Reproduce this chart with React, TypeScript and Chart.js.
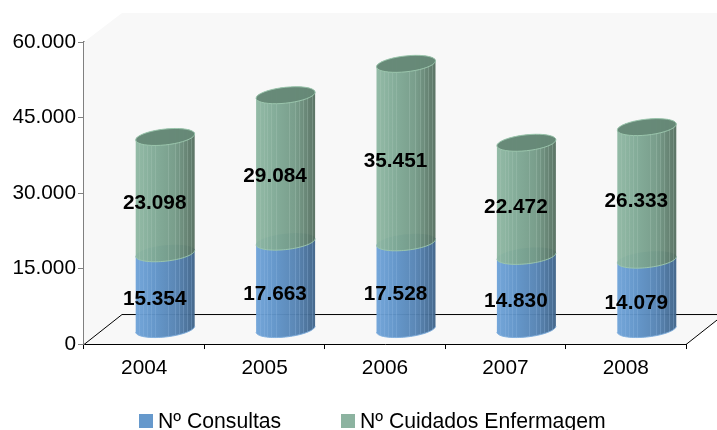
import React, { useEffect, useRef } from "react";
import { Chart, registerables } from "chart.js";

Chart.register(...registerables);

const categories = ["2004", "2005", "2006", "2007", "2008"];
const consultas = [15354, 17663, 17528, 14830, 14079];
const cuidados = [23098, 29084, 35451, 22472, 26333];
const yTicks = [0, 15000, 30000, 45000, 60000];
const seriesNames = ["Nº Consultas", "Nº Cuidados Enfermagem"];
const seriesColors = ["#6699CC", "#8CB3A0"];
const legendBoxX = [139, 341];

const FONT = "'Liberation Sans', Arial, sans-serif";
const DEPTH_X = 38;
const DEPTH_Y = 30;
const BAR_DX = 21;
const BAR_DY = -13.5;
const A_TILT = 3;
const B_RATIO = 0.27;

const fmt = (v: number) => String(v).replace(/\B(?=(\d{3})+(?!\d))/g, ".");

function ellipsePts(cx: number, cy: number, a: number, from: number, to: number) {
  const pts: [number, number][] = [];
  const n = 40;
  for (let i = 0; i <= n; i++) {
    const t = from + ((to - from) * i) / n;
    pts.push([cx + a * Math.cos(t), cy + a * B_RATIO * Math.sin(t) - A_TILT * Math.cos(t)]);
  }
  return pts;
}

function shadeGradient(ctx: CanvasRenderingContext2D, x0: number, x1: number, stops: string[]) {
  const g = ctx.createLinearGradient(x0, 0, x1, 0);
  stops.forEach((c, i) => g.addColorStop(i / (stops.length - 1), c));
  return g;
}

function drawSegment(
  ctx: CanvasRenderingContext2D,
  cx: number,
  yTop: number,
  yBot: number,
  a: number,
  colors: string[],
  stripe: string,
  edge: string
) {
  const x0 = cx - a;
  const x1 = cx + a;
  const bottom = ellipsePts(cx, yBot, a, 0, Math.PI);
  const top = ellipsePts(cx, yTop, a, Math.PI, 2 * Math.PI);
  ctx.save();
  ctx.beginPath();
  bottom.forEach(([x, y], i) => (i ? ctx.lineTo(x, y) : ctx.moveTo(x, y)));
  top.forEach(([x, y]) => ctx.lineTo(x, y));
  ctx.closePath();
  ctx.fillStyle = shadeGradient(ctx, x0, x1, colors);
  ctx.fill();
  ctx.clip();
  ctx.strokeStyle = stripe;
  ctx.lineWidth = 1;
  const fractions = [0.06, 0.13, 0.19, 0.26, 0.33, 0.55, 0.66, 0.73, 0.8, 0.87, 0.94];
  fractions.forEach((f) => {
    const x = Math.round(x0 + f * 2 * a) + 0.5;
    ctx.beginPath();
    ctx.moveTo(x, yTop - 20);
    ctx.lineTo(x, yBot + 20);
    ctx.stroke();
  });
  ctx.restore();
  ctx.strokeStyle = edge;
  ctx.lineWidth = 1;
  ctx.beginPath();
  bottom.forEach(([x, y], i) => (i ? ctx.lineTo(x, y) : ctx.moveTo(x, y)));
  ctx.stroke();
}

const cylinderPlugin = {
  id: "cylinder3d",
  beforeDatasetsDraw(chart: any) {
    const { ctx, chartArea } = chart;
    const { left, right, top, bottom } = chartArea;
    ctx.save();
    ctx.fillStyle = "#F8F8F8";
    ctx.beginPath();
    ctx.moveTo(left, bottom);
    ctx.lineTo(left, top);
    ctx.lineTo(left + DEPTH_X, top - DEPTH_Y + 1);
    ctx.lineTo(chart.width, top - DEPTH_Y + 1);
    ctx.lineTo(chart.width, bottom - DEPTH_Y + 6);
    ctx.lineTo(right, bottom);
    ctx.closePath();
    ctx.fill();
    ctx.strokeStyle = "#000";
    ctx.lineWidth = 1;
    ctx.beginPath();
    ctx.moveTo(left, bottom + 0.5);
    ctx.lineTo(left + DEPTH_X, bottom - DEPTH_Y + 0.5);
    ctx.lineTo(chart.width, bottom - DEPTH_Y + 0.5);
    ctx.moveTo(right, bottom + 0.5);
    ctx.lineTo(right + DEPTH_X, bottom - DEPTH_Y + 0.5);
    ctx.stroke();
    ctx.restore();
  },
  beforeDatasetDraw() {
    return false;
  },
  afterDatasetsDraw(chart: any) {
    const { ctx } = chart;
    const blue = chart.getDatasetMeta(0).data;
    const green = chart.getDatasetMeta(1).data;
    ctx.save();
    ctx.globalAlpha = 0.96;
    blue.forEach((el: any, i: number) => {
      const g = green[i];
      const cx = el.x + BAR_DX;
      const a = el.width / 2;
      const y0 = el.base + BAR_DY - 1;
      const y1 = el.y + BAR_DY;
      const y2 = g.y + BAR_DY;
      drawSegment(ctx, cx, y1, y0, a, ["#6FA3D8", "#5F93C8", "#5583B3", "#3F6388"], "rgba(150,190,230,0.3)", "#7FAEDD");
      drawSegment(ctx, cx, y2, y1, a, ["#8FB8A3", "#7FA995", "#749A87", "#566F60"], "rgba(175,205,190,0.3)", "#9CC7AE");
      const pts = ellipsePts(cx, y2, a, 0, 2 * Math.PI);
      ctx.beginPath();
      pts.forEach(([x, y], k) => (k ? ctx.lineTo(x, y) : ctx.moveTo(x, y)));
      ctx.closePath();
      ctx.fillStyle = "#668877";
      ctx.fill();
      ctx.strokeStyle = "#9CC7AE";
      ctx.stroke();
    });
    ctx.restore();

    ctx.save();
    ctx.font = `bold 20.8px ${FONT}`;
    ctx.fillStyle = "#000";
    ctx.textAlign = "center";
    ctx.textBaseline = "middle";
    blue.forEach((el: any, i: number) => {
      const g = green[i];
      ctx.fillText(fmt(consultas[i]), el.x + 10.5, (el.base + el.y) / 2 - 5.5);
      ctx.fillText(fmt(cuidados[i]), el.x + 10.5, (el.y + g.y) / 2 - 5.5);
    });
    ctx.restore();

    ctx.save();
    ctx.font = `21.2px ${FONT}`;
    ctx.textBaseline = "alphabetic";
    chart.data.datasets.forEach((d: any, i: number) => {
      ctx.fillStyle = d.backgroundColor;
      ctx.fillRect(legendBoxX[i], 414, 14, 14);
      ctx.fillStyle = "#000";
      ctx.fillText(d.label, legendBoxX[i] + 19, 428);
    });
    ctx.restore();
  },
};

export default function App() {
  const ref = useRef<HTMLCanvasElement>(null);
  useEffect(() => {
    const chart = new Chart(ref.current!, {
      type: "bar",
      data: {
        labels: categories,
        datasets: [
          { label: seriesNames[0], data: consultas, backgroundColor: seriesColors[0] },
          { label: seriesNames[1], data: cuidados, backgroundColor: seriesColors[1] },
        ],
      },
      plugins: [cylinderPlugin],
      options: {
        responsive: false,
        animation: false,
        devicePixelRatio: 1,
        layout: { padding: { top: 42, right: 31, left: 0, bottom: 42 } },
        datasets: { bar: { barPercentage: 0.49, categoryPercentage: 1 } },
        plugins: {
          tooltip: { enabled: false },
          legend: { display: false },
        },
        scales: {
          x: {
            stacked: true,
            grid: { drawOnChartArea: false, drawTicks: true, tickLength: 5, color: "#000" },
            border: { color: "#000", width: 1 },
            ticks: { font: { family: FONT, size: 20.8 }, color: "#000", maxRotation: 0, padding: 7 },
          },
          y: {
            stacked: true,
            min: 0,
            max: 60000,
            afterBuildTicks: (s: any) => {
              s.ticks = yTicks.map((value) => ({ value }));
            },
            afterFit: (s: any) => {
              s.width = 84;
            },
            grid: { drawOnChartArea: false, drawTicks: true, tickLength: 6, color: "#808080" },
            border: { color: "#808080", width: 2 },
            ticks: {
              font: { family: FONT, size: 20.8 },
              color: "#000",
              padding: 2,
              callback: (v: any) => fmt(Number(v)),
            },
          },
        },
      },
    } as any);
    return () => chart.destroy();
  }, []);
  return (
    <div style={{ position: "absolute", left: 0, top: 0 }}>
      <canvas ref={ref} width={717} height={430} style={{ display: "block" }} />
    </div>
  );
}
